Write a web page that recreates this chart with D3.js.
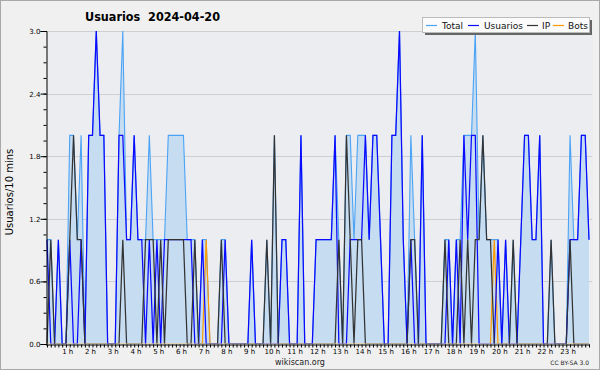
<!DOCTYPE html>
<html><head><meta charset="utf-8">
<script src="https://cdn.jsdelivr.net/npm/d3@7"></script>
<style>
html,body{margin:0;padding:0;background:#f0f0f0;}
svg{display:block;}
text{font-family:"DejaVu Sans",sans-serif;}
</style></head>
<body>
<svg id="chart" width="600" height="370"></svg>
<script>
const title = "Usuarios  2024-04-20";
const yLabel = "Usuarios/10 mins";
const seriesNames = ["Total","Usuarios","IP","Bots"];
const hourLabels = d3.range(1,24).map(h => h + " h");
const yTicks = [0,0.6,1.2,1.8,2.4,3.0];

const total = [1,1,0,1,0,0,2,2,1,2, 0,2,2,3,2,2,0,0,0,2, 3,1,1,2,1,1,1,2,1,1, 1,1,2,2,2,2,2,1,1,1,
 0,1,1,0,0,0,1,1,0,0, 0,0,0,0,1,0,0,0,1,0, 2,0,1,1,0,0,0,2,0,0, 0,1,1,1,1,1,2,1,0,2,
 2,1,2,2,2,1,2,2,1,0, 0,2,2,3,1,0,2,1,0,2, 0,0,0,0,0,1,1,0,1,1, 2,2,2,3,1,2,1,1,1,1,
 0,1,0,1,0,1,2,2,1,1, 2,0,0,1,0,0,0,0,2,1, 1,2,2,1];
const usuarios = [1,0,0,1,0,0,1,0,0,1, 0,2,2,3,2,2,0,0,0,2, 2,1,1,2,1,1,0,1,0,1, 0,1,1,1,1,1,1,1,1,0,
 0,1,0,0,0,0,0,1,0,0, 0,0,0,0,1,0,0,0,0,0, 0,0,1,1,0,0,0,2,0,0, 0,1,1,1,1,1,2,0,0,0,
 1,1,1,1,2,1,2,2,1,0, 0,2,2,3,1,0,1,0,0,2, 0,0,0,0,0,0,1,0,1,0, 2,1,2,2,0,0,0,0,0,1,
 0,1,0,0,0,1,2,2,1,1, 2,0,0,0,0,0,0,0,1,1, 1,2,2,1];
const ip = [0,1,0,0,0,0,1,2,1,1, 0,0,0,0,0,0,0,0,0,0, 1,0,0,0,0,0,1,1,1,0, 1,0,1,1,1,1,1,0,0,1,
 0,0,0,0,0,0,1,0,0,0, 0,0,0,0,0,0,0,0,1,0, 2,0,0,0,0,0,0,0,0,0, 0,0,0,0,0,0,0,1,0,2,
 1,0,1,1,0,0,0,0,0,0, 0,0,0,0,0,0,1,1,0,0, 0,0,0,0,0,1,0,0,0,1, 0,1,0,1,1,2,1,1,0,0,
 0,0,0,1,0,0,0,0,0,0, 0,0,0,1,0,0,0,0,1,0, 0,0,0,0];
const bots = [0,0,0,0,0,0,0,0,0,0, 0,0,0,0,0,0,0,0,0,0, 0,0,0,0,0,0,0,0,0,0, 0,0,0,0,0,0,0,0,0,0,
 0,0,1,0,0,0,0,0,0,0, 0,0,0,0,0,0,0,0,0,0, 0,0,0,0,0,0,0,0,0,0, 0,0,0,0,0,0,0,0,0,0,
 0,0,0,0,0,0,0,0,0,0, 0,0,0,0,0,0,0,0,0,0, 0,0,0,0,0,0,0,0,0,0, 0,0,0,0,0,0,0,0,1,0,
 0,0,0,0,0,0,0,0,0,0, 0,0,0,0,0,0,0,0,0,0, 0,0,0,0];

const colors = {Total:"#4aa3f5", Usuarios:"#0a0aff", IP:"#333333", Bots:"#ff9a00"};
const areaFill = "#c6dcf0";

const svg = d3.select("#chart");
const W = 600, H = 370;
const pLeft = 46, pRight = 589, pTop = 31, pBottom = 344;

svg.append("rect").attr("x",0.5).attr("y",0.5).attr("width",W-1).attr("height",H-1)
  .attr("fill","#f0f0f0").attr("stroke","#a8a8a8");
svg.append("rect").attr("x",pLeft).attr("y",pTop).attr("width",593-pLeft).attr("height",pBottom-pTop)
  .attr("fill","#ecedf0");

svg.append("clipPath").attr("id","plotclip").append("rect")
  .attr("x",pLeft).attr("y",pTop-3).attr("width",593-pLeft).attr("height",pBottom-pTop+2.6);

const x = d3.scaleLinear().domain([0,143]).range([47,589]);
const y = d3.scaleLinear().domain([0,3]).range([pBottom,pTop]);

// grid
svg.append("g").selectAll("line").data(yTicks.slice(1)).join("line")
  .attr("x1",pLeft).attr("x2",592).attr("y1",d=>Math.round(y(d))+0.5).attr("y2",d=>Math.round(y(d))+0.5)
  .attr("stroke","#cdcfd2").attr("stroke-width",1);

const idx = d3.range(total.length);
const plot = svg.append("g").attr("clip-path","url(#plotclip)");
const area = d3.area().x(i=>x(i)).y0(y(0)).y1(i=>y(total[i]));
plot.append("path").datum(idx).attr("d",area).attr("fill",areaFill);

function drawLine(arr,color,w){
  const line = d3.line().x(i=>x(i)).y(i=>y(arr[i]));
  plot.append("path").datum(idx).attr("d",line).attr("fill","none")
    .attr("stroke",color).attr("stroke-width",w).attr("stroke-linejoin","miter");
}
drawLine(total,colors.Total,1.1);
drawLine(bots,colors.Bots,1.2);
drawLine(usuarios,colors.Usuarios,1.25);
drawLine(ip,colors.IP,1.25);

// y axis
const yAxis = svg.append("g").attr("transform",`translate(${pLeft+0.5},0)`)
  .call(d3.axisLeft(y).tickValues(yTicks).tickSize(6).tickFormat(d3.format(".1f")));
yAxis.select(".domain").attr("stroke","#000");
yAxis.selectAll("text").attr("font-size",7).attr("font-family","DejaVu Sans").attr("x",-6).attr("dy","0.35em");
svg.append("g").attr("transform",`translate(${pLeft+0.5},0)`)
  .call(d3.axisLeft(y).tickValues(d3.range(0,21).map(k=>k*0.15)).tickSize(3).tickFormat(""))
  .select(".domain").remove();

// x axis
const xAxis = svg.append("g").attr("transform",`translate(0,${pBottom+0.5})`)
  .call(d3.axisBottom(x).tickValues(idx).tickSize(3).tickFormat(""));
xAxis.select(".domain").attr("d",`M${pLeft},0.5H${pRight+1}`).attr("stroke","#000");
svg.append("g").selectAll("text").data(hourLabels).join("text")
  .attr("x",(d,k)=>x((k+1)*6)-2).attr("y",354).attr("text-anchor","middle")
  .attr("font-size",7).attr("fill","#000").text(d=>d);

// title
svg.append("text").attr("x",85).attr("y",21).attr("font-family","'DejaVu Sans Condensed','DejaVu Sans',sans-serif")
  .attr("font-stretch","condensed").attr("font-weight","bold").attr("font-size",12.5)
  .attr("xml:space","preserve").style("white-space","pre").text(title);

// y label
svg.append("text").attr("transform","translate(13,192) rotate(-90)").attr("text-anchor","middle")
  .attr("font-size",10).text(yLabel);

// footer
svg.append("text").attr("x",300).attr("y",365).attr("text-anchor","middle").attr("font-size",8).attr("fill","#222").text("wikiscan.org");
svg.append("text").attr("x",589).attr("y",365).attr("text-anchor","end").attr("font-size",6).attr("fill","#222").text("CC BY-SA 3.0");

// legend
const lg = svg.append("g");
lg.append("rect").attr("x",425).attr("y",20).attr("width",167).attr("height",15).attr("fill","#666");
lg.append("rect").attr("x",422.5).attr("y",17.5).attr("width",167).attr("height",15).attr("fill","#fbfbfb").attr("stroke","#bbb");
const legX = [426,468,527,553];
const legTextX = [442,484,542,568];
seriesNames.forEach((n,k)=>{
  lg.append("line").attr("x1",legX[k]).attr("x2",legX[k]+11).attr("y1",25.5).attr("y2",25.5)
    .attr("stroke",colors[n]).attr("stroke-width",1.2);
  lg.append("text").attr("x",legTextX[k]).attr("y",28.5).attr("font-size",9).attr("fill","#111").text(n);
});
</script>
</body></html>
